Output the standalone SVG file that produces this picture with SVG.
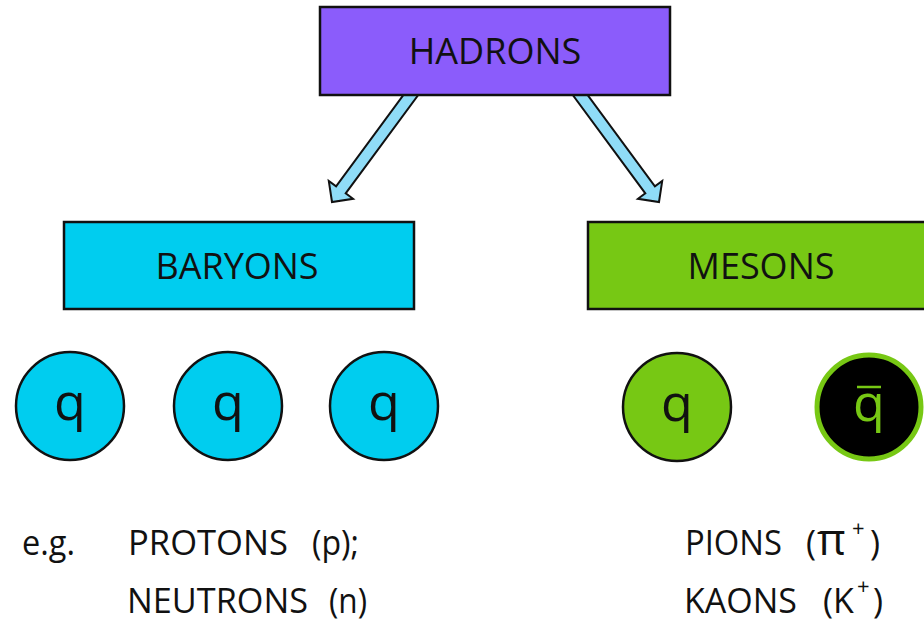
<svg xmlns="http://www.w3.org/2000/svg" width="924" height="624" viewBox="0 0 924 624">
<style>
.box{stroke:#111;stroke-width:2.5}
.lbl{font-family:"Open Sans","Liberation Sans",sans-serif;font-size:36px;fill:#111;text-anchor:middle}
.q{font-family:"Open Sans","Liberation Sans",sans-serif;font-size:52px;text-anchor:middle}
.txt{font-family:"Open Sans","Liberation Sans",sans-serif;font-size:34px;fill:#111}
.sup{font-size:22px}
.arrow{fill:#8fdcf7;stroke:#111;stroke-width:2;stroke-linejoin:miter}
</style>
<rect width="924" height="624" fill="#ffffff"/>
<g id="connectors">
  <polygon id="arrow-left" class="arrow" points="411.2,84.5 420.8,91.5 345.7,193.4 353.0,198.8 332,202 328.8,181.0 336.1,186.4"/>
  <polygon id="arrow-right" class="arrow" transform="matrix(-1 0 0 1 991 0)" points="411.2,84.5 420.8,91.5 345.7,193.4 353.0,198.8 332,202 328.8,181.0 336.1,186.4"/>
</g>
<g id="hadrons">
  <rect class="box" x="320" y="7" width="350" height="88" fill="#8b5cfb"/>
  <text class="lbl" x="495" y="64">HADRONS</text>
</g>
<g id="baryons">
  <rect class="box" x="64" y="222" width="350" height="87" fill="#00cdef"/>
  <text class="lbl" x="237" y="279">BARYONS</text>
</g>
<g id="mesons">
  <rect class="box" x="588" y="222" width="345" height="87" fill="#77c814"/>
  <text class="lbl" x="761" y="279">MESONS</text>
</g>
<g id="baryon-q1">
  <circle cx="70" cy="406" r="54" fill="#00cdef" stroke="#111" stroke-width="2.5"/>
  <text class="q" x="70" y="420" fill="#111">q</text>
</g>
<g id="baryon-q2">
  <circle cx="228" cy="406" r="54" fill="#00cdef" stroke="#111" stroke-width="2.5"/>
  <text class="q" x="228" y="420" fill="#111">q</text>
</g>
<g id="baryon-q3">
  <circle cx="384" cy="406" r="54" fill="#00cdef" stroke="#111" stroke-width="2.5"/>
  <text class="q" x="384" y="420" fill="#111">q</text>
</g>
<g id="meson-q">
  <circle cx="677" cy="407" r="54" fill="#77c814" stroke="#111" stroke-width="2.5"/>
  <text class="q" x="677" y="421" fill="#111">q</text>
</g>
<g id="meson-antiq">
  <circle cx="869" cy="407" r="52" fill="#000" stroke="#77c814" stroke-width="5"/>
  <text class="q" x="869" y="421" fill="#77c814">q</text>
  <line x1="857" y1="387" x2="881" y2="387" stroke="#77c814" stroke-width="2.5"/>
</g>
<g id="examples">
  <text class="txt" x="22" y="555" textLength="53" lengthAdjust="spacingAndGlyphs">e.g.</text>
  <text class="txt" x="128" y="555" textLength="160" lengthAdjust="spacingAndGlyphs">PROTONS</text>
  <text class="txt" x="312" y="555" textLength="47" lengthAdjust="spacingAndGlyphs">(p);</text>
  <text class="txt" x="127" y="613" textLength="181" lengthAdjust="spacingAndGlyphs">NEUTRONS</text>
  <text class="txt" x="329" y="613" textLength="38" lengthAdjust="spacingAndGlyphs">(n)</text>
  <text class="txt" x="685" y="555" textLength="97" lengthAdjust="spacingAndGlyphs">PIONS</text>
  <text class="txt" y="555"><tspan x="806">(</tspan><tspan x="817" font-size="44">π</tspan><tspan class="sup" x="852" y="536">+</tspan><tspan x="870" y="555">)</tspan></text>
  <text class="txt" x="684" y="613" textLength="113" lengthAdjust="spacingAndGlyphs">KAONS</text>
  <text class="txt" y="613"><tspan x="823">(K</tspan><tspan class="sup" x="857" y="594">+</tspan><tspan x="873" y="613">)</tspan></text>
</g>
</svg>
